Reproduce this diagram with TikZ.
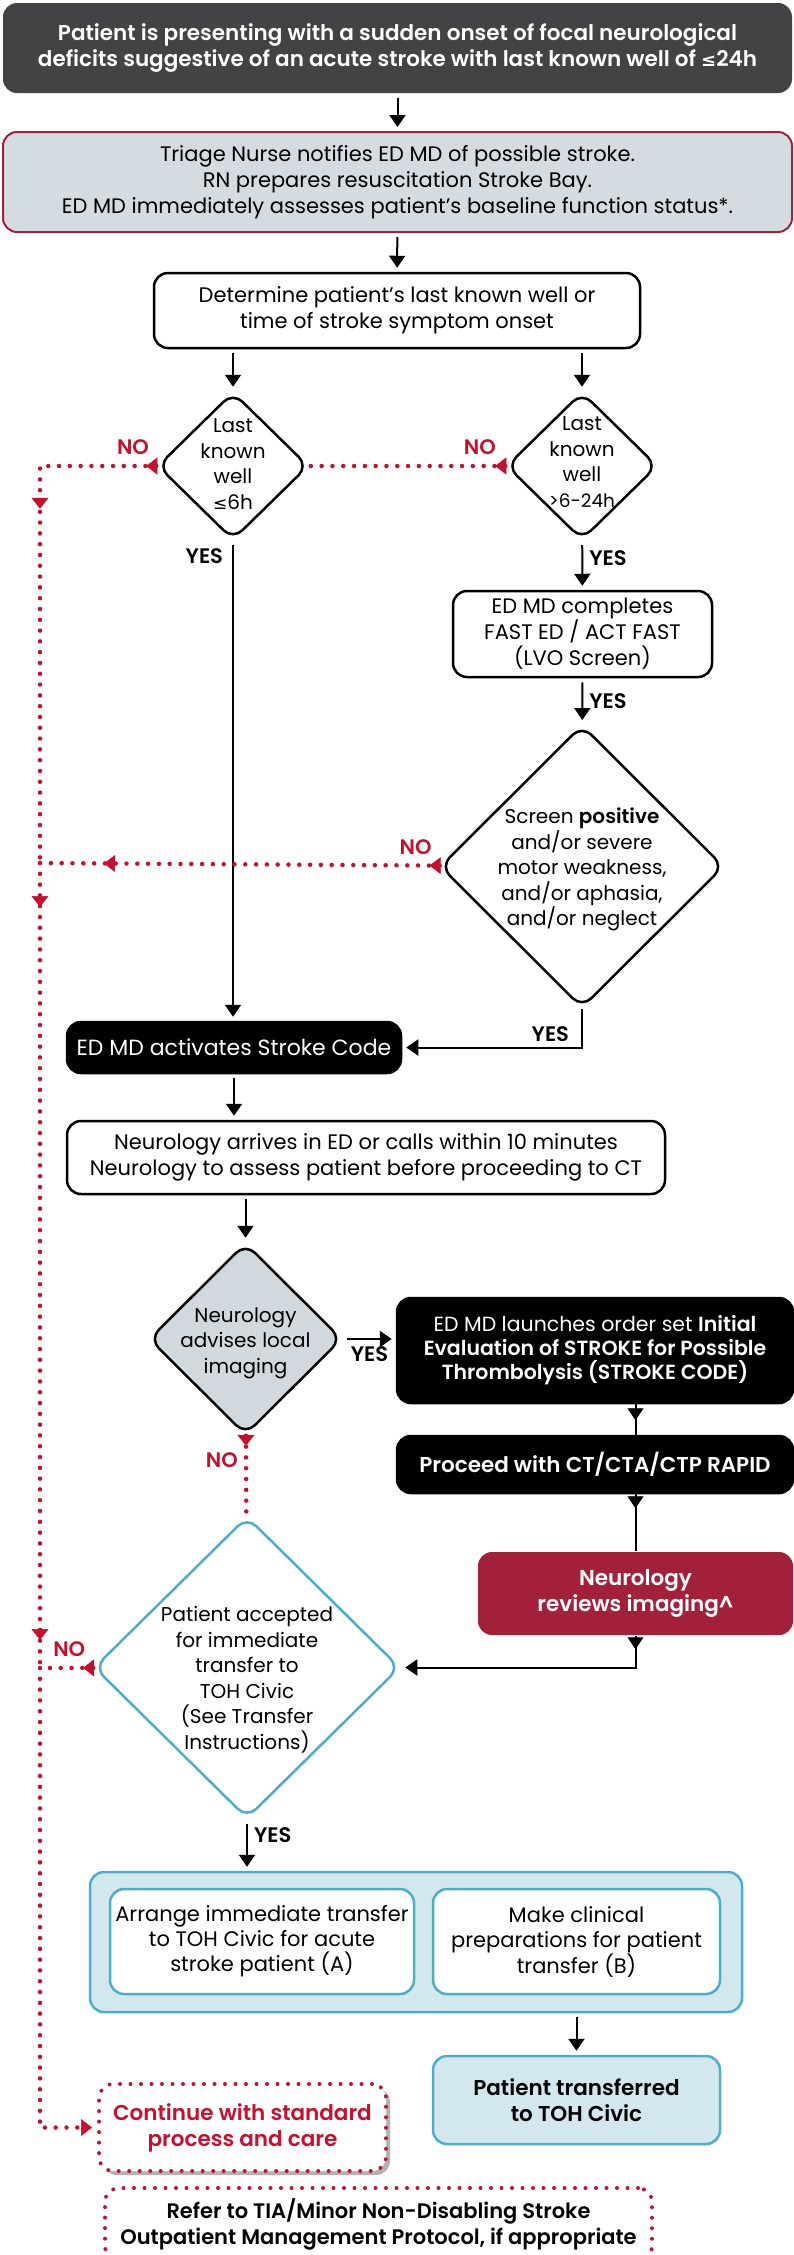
\documentclass[tikz,border=0pt]{standalone}
\usepackage{fontspec}
\setmainfont{Poppins}[BoldFont={Poppins SemiBold}]
\newfontfamily\symfont{DejaVu Sans}
\usetikzlibrary{arrows.meta,shapes.geometric,decorations.markings,shadows,positioning}

\definecolor{slate}{HTML}{434244}
\definecolor{mist}{HTML}{D5DCE1}
\definecolor{wine}{HTML}{A3203A}
\definecolor{nored}{HTML}{C8102E}
\definecolor{civicblue}{HTML}{4AAFC8}
\definecolor{civicpale}{HTML}{D3E7EE}
\definecolor{ashgrey}{HTML}{D2D9DE}

\begin{document}
\begin{tikzpicture}
  [
    x=1pt, y=-1pt,
    ->,
    >={Triangle[length=12pt,width=16pt]},
    line width=2pt,
    every node/.style={font=\fontsize{21}{26}\selectfont, align=center, inner sep=0pt},
    gap/.style={shorten <=4pt, shorten >=4pt},
    box node/.style={rectangle, draw, rounded corners=14pt, line width=2.5pt, fill=white},
    dark node/.style={box node, fill=black, text=white},
    blue node/.style={box node, draw=civicblue, fill=civicpale},
    decision node/.style={diamond, aspect=1, draw, line width=2.5pt, rounded corners=13pt, fill=white},
    decision text/.style={font=\fontsize{20}{25.5}\selectfont},
    stop node/.style={rectangle, rounded corners=14pt, draw=nored, line width=4pt, line cap=round, dash pattern=on 0pt off 10.5pt, fill=white},
    bold text/.style={font=\fontsize{21.5}{26}\selectfont\bfseries},
    yes label/.style={font=\fontsize{21}{25}\selectfont\bfseries},
    no label/.style={font=\fontsize{21}{26}\selectfont\bfseries, text=nored},
    no path/.style={-, draw=nored, line width=4.5pt, line cap=round, dash pattern=on 0pt off 10.8pt},
    red tip/.style={postaction={decorate, decoration={markings, mark=at position #1 with {\arrow[solid, line width=0.5pt]{Triangle[length=11pt,width=17pt]}}}}},
    mid tip/.style={postaction={decorate, decoration={markings, mark=at position #1 with {\arrow[solid, line width=0.5pt]{Triangle[length=12pt,width=16pt]}}}}}
  ]
  \useasboundingbox (0,0) rectangle (794,2255);
  \clip (0,0) rectangle (794,2255);

  \node[box node, draw=none, fill=slate, text=white, bold text, minimum width=789, minimum height=90] (1) at (397.5,48)
    {Patient is presenting with a sudden onset of focal neurological\\deficits suggestive of an acute stroke with last known well of {\symfont\fontsize{18}{26}\selectfont ≤}24h};
  \node[box node, draw=wine, line width=2pt, fill=mist, minimum width=789, minimum height=100] (2) at (397.5,182)
    {Triage Nurse notifies ED MD of possible stroke.\\RN prepares resuscitation Stroke Bay.\\ED MD immediately assesses patient’s baseline function status*.};
  \node[box node, minimum width=486, minimum height=75] (3) at (397,310.5)
    {Determine patient’s last known well or\\time of stroke symptom onset};
  \node[decision node, minimum width=151, minimum height=148] (4) at (233,466) {};
  \node[decision text] (4a) at ([yshift=2pt]4) {Last\\known\\well\\{\symfont\fontsize{17}{25}\selectfont ≤}6h};
  \node[decision node, minimum width=151, minimum height=148] (5) at (582,466) {};
  \node[decision text] (5a) at ([yshift=4pt]5) {Last\\known\\well\\{\fontsize{18.5}{25}\selectfont >6-24h}};
  \node[box node, minimum width=259, minimum height=86] (6) at (582.5,634)
    {ED MD completes\\FAST ED / ACT FAST\\(LVO Screen)};
  \node[decision node, minimum width=284, minimum height=283] (7) at (582,866.5) {};
  \node[decision text] (7a) at ([yshift=-3pt]7) {Screen \textbf{positive}\\and/or severe\\motor weakness,\\and/or aphasia,\\and/or neglect};
  \node[dark node, minimum width=334, minimum height=51] (8) at (234,1047.5)
    {\fontsize{22}{26}\selectfont ED MD activates Stroke Code};
  \node[box node, minimum width=598, minimum height=73] (9) at (366,1157.5)
    {Neurology arrives in ED or calls within 10 minutes\\Neurology to assess patient before proceeding to CT};
  \node[decision node, fill=ashgrey, minimum width=193, minimum height=192] (10) at (245.5,1339) {};
  \node[decision text] (10a) at ([yshift=-4pt]10) {Neurology\\advises local\\imaging};
  \node[dark node, minimum width=396, minimum height=105, font=\fontsize{20.5}{24}\selectfont] (11) at (595,1350.5)
    {ED MD launches order set \textbf{Initial}\\\textbf{Evaluation of STROKE for Possible}\\\textbf{Thrombolysis (STROKE CODE)}};
  \node[dark node, bold text, minimum width=396, minimum height=57] (12) at (595,1464.5)
    {Proceed with CT/CTA/CTP RAPID};
  \node[box node, draw=none, fill=wine, text=white, bold text, minimum width=315, minimum height=83] (13) at (635.5,1593.5)
    {Neurology\\reviews imaging\textasciicircum};
  \node[decision node, draw=civicblue, minimum width=306, minimum height=302] (14) at (247,1667.5) {};
  \node[decision text] (14a) at ([yshift=-12pt]14) {Patient accepted\\for immediate\\transfer to\\TOH Civic\\(See Transfer\\Instructions)};
  \node[blue node, minimum width=652, minimum height=140] (15) at (416,1942) {};
  \node[box node, draw=civicblue, minimum width=304, minimum height=105, font=\fontsize{21}{25}\selectfont] (16) at (262,1941.5)
    {Arrange immediate transfer\\to TOH Civic for acute\\stroke patient (A)};
  \node[box node, draw=civicblue, minimum width=287, minimum height=105, font=\fontsize{21}{25}\selectfont] (17) at (576.5,1941.5)
    {Make clinical\\preparations for patient\\transfer (B)};
  \node[blue node, bold text, minimum width=287, minimum height=88] (18) at (576.5,2100)
    {Patient transferred\\to TOH Civic};
  \node[stop node, text=nored, bold text, minimum width=287, minimum height=87,
        drop shadow={shadow xshift=4pt, shadow yshift=-4pt, opacity=.3, fill=black}] (19) at (242.5,2127.5)
    {Continue with standard\\process and care};
  \node[stop node, font=\fontsize{21}{26}\selectfont\bfseries, minimum width=547, minimum height=72] (20) at (378.5,2224)
    {Refer to TIA/Minor Non-Disabling Stroke\\Outpatient Management Protocol, if appropriate};

  \coordinate (c1) at (40,863);
  \coordinate (c2) at (40,1668);

  \path (1) edge[gap] (2)
        (2) edge[gap] (3)
        (3.south -| 4) edge[gap] (4)
        (3.south -| 5) edge[gap] (5)
        (5) edge[gap] node[yes label, right=6pt, pos=.35] {YES} (6)
        (6) edge[gap] node[yes label, right=6pt] {YES} (7)
        (4) edge[gap] node[yes label, left=9pt, pos=.03] {YES} (4 |- 8.north)
        (8) edge[gap] (8 |- 9.north)
        (9.south -| 10) edge[gap] (10)
        (10) edge[gap] node[yes label, below=7pt] {YES} (10 -| 11.west)
        (14) edge[gap] node[yes label, right=6pt, pos=.3] {YES} (14 |- 15.north)
        (15.south -| 18) edge[gap] (18);
  \draw[shorten >=4pt] (7) |- node[yes label, pos=.5, above left=5pt and 12pt] {YES} (8);
  \draw[-, mid tip=16pt] (11.south -| 13) -- (12.north -| 13);
  \draw[-, mid tip=14pt] (12.south -| 13) -- (13);
  \draw[shorten >=4pt, mid tip=13pt] (13) |- (14);

  \draw[no path, red tip=10pt] (5) -- node[no label, above=9pt, pos=.13] {NO} (4);
  \draw[no path, red tip=10pt, red tip=159pt] (4) -| node[no label, above=9pt, pos=.1] {NO} (c1);
  \draw[no path, red tip=10pt, red tip=-64pt] (7) -- node[no label, above=9pt, pos=.06] {NO} (c1);
  \draw[no path, red tip=44pt, red tip=-28pt] (c1) -- (c2);
  \draw[no path, red tip=10pt] (14) -- node[no label, above=9pt, pos=.45] {NO} (c2);
  \draw[no path, red tip=10pt] (10) -- node[no label, left=6pt, pos=.3] {NO} (14);
  \draw[no path, -{Triangle[length=11pt,width=17pt,line width=0.5pt]}, shorten >=5pt] (c2) |- (19);
\end{tikzpicture}
\end{document}
